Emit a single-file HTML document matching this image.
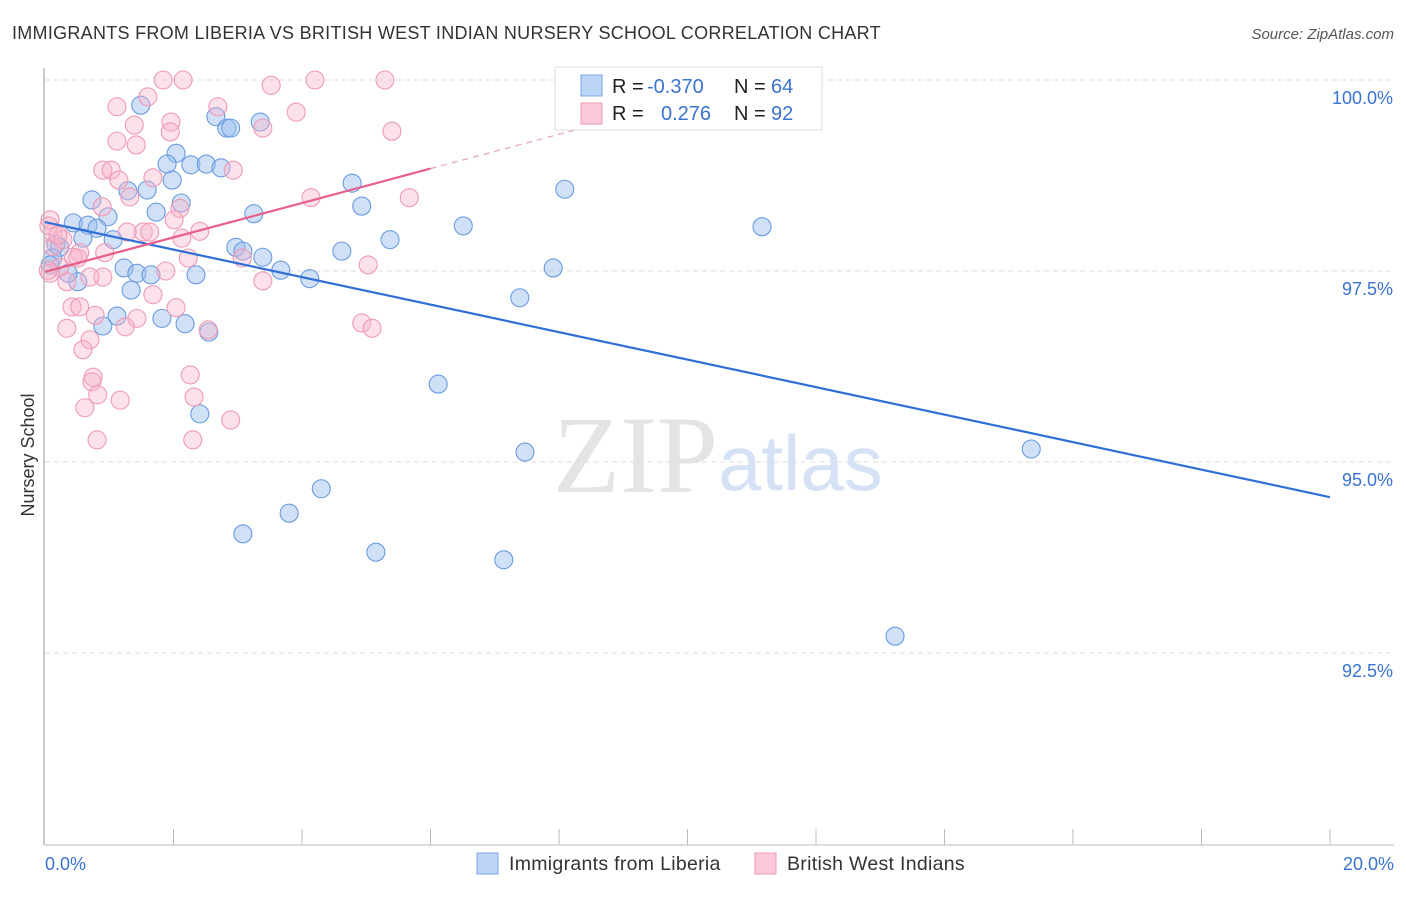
<!DOCTYPE html>
<html><head><meta charset="utf-8"><style>
body{margin:0;background:#fff;width:1406px;height:892px;overflow:hidden;font-family:"Liberation Sans",sans-serif}
</style></head><body>
<svg id="chart" width="1406" height="892" xmlns="http://www.w3.org/2000/svg" font-family="Liberation Sans, sans-serif">
<text x="12" y="39" font-size="18" letter-spacing="0.28" fill="#333">IMMIGRANTS FROM LIBERIA VS BRITISH WEST INDIAN NURSERY SCHOOL CORRELATION CHART</text>
<text x="1394" y="39" font-size="15" fill="#555" font-style="italic" text-anchor="end">Source: ZipAtlas.com</text>
<text x="553" y="492" font-size="110" fill="#e4e4e4" font-family="Liberation Serif, serif">ZIP</text>
<text x="718" y="490" font-size="78" fill="#d5e2f5">atlas</text>
<text transform="translate(34,455) rotate(-90)" font-size="18" fill="#333" text-anchor="middle">Nursery School</text>
<g id="grid"></g><g id="marks"></g><g id="lines"></g>
<line x1="44" y1="68" x2="44" y2="845" stroke="#bbb" stroke-width="1.5"/>
<line x1="44" y1="845" x2="1394" y2="845" stroke="#bbb" stroke-width="1"/>
<text x="45" y="870" font-size="18" fill="#3b73d1">0.0%</text>
<text x="1394" y="870" font-size="18" fill="#3b73d1" text-anchor="end">20.0%</text>
<g>
<rect x="555" y="67" width="267" height="63" fill="#fff" stroke="#ddd"/>
<rect x="581" y="75" width="21" height="21" fill="#bcd4f5" stroke="#7aa6e6"/>
<rect x="581" y="103" width="21" height="21" fill="#fbc9d8" stroke="#ee9ab5"/>
<text x="612" y="93" font-size="20" fill="#222">R =</text><text x="647" y="93" font-size="20" fill="#3b73d1">-0.370</text>
<text x="734" y="93" font-size="20" fill="#222">N =</text><text x="771" y="93" font-size="20" fill="#3b73d1">64</text>
<text x="612" y="120" font-size="20" fill="#222">R =</text><text x="661" y="120" font-size="20" fill="#3b73d1">0.276</text>
<text x="734" y="120" font-size="20" fill="#222">N =</text><text x="771" y="120" font-size="20" fill="#3b73d1">92</text>
</g>
<g><rect x="477" y="853" width="21" height="21" fill="#bcd4f5" stroke="#7aa6e6"/><text x="509" y="870" font-size="19.5" letter-spacing="0.3" fill="#333">Immigrants from Liberia</text></g>
<g><rect x="755" y="853" width="21" height="21" fill="#fbc9d8" stroke="#ee9ab5"/><text x="787" y="870" font-size="19.5" letter-spacing="0.3" fill="#333">British West Indians</text></g>
</svg>
<script>
const yTicks=[100,97.5,95,92.5];
const yTickLabels=["100.0%","97.5%","95.0%","92.5%"];
const xTicks=[2,4,6,8,10,12,14,16,18,20];
const blueX=[9.42,1.49,2.66,2.83,2.89,3.35,2.04,1.90,2.27,2.51,2.74,1.98,4.78,8.09,1.29,1.59,0.73,2.12,1.73,4.93,3.25,0.98,0.44,0.67,0.81,6.51,11.16,0.59,1.06,5.37,2.97,3.08,4.62,3.39,0.17,0.23,0.12,0.08,1.23,1.43,1.65,2.35,3.67,4.12,7.91,0.51,1.34,7.39,1.12,1.82,0.90,2.18,2.55,6.12,2.41,7.47,15.35,4.30,3.80,3.08,5.15,7.14,13.23,0.36];
const blueY=[100.03,99.67,99.52,99.37,99.37,99.45,99.04,98.90,98.89,98.90,98.85,98.69,98.65,98.57,98.55,98.56,98.43,98.39,98.27,98.35,98.25,98.21,98.13,98.10,98.06,98.09,98.08,97.93,97.91,97.91,97.81,97.76,97.76,97.68,97.85,97.81,97.67,97.58,97.54,97.47,97.45,97.45,97.51,97.40,97.54,97.36,97.25,97.15,96.91,96.88,96.78,96.81,96.70,96.02,95.63,95.13,95.17,94.65,94.33,94.06,93.82,93.72,92.72,97.47];
const pinkX=[1.84,2.15,3.52,4.20,5.29,1.60,1.12,2.69,3.91,1.39,1.96,1.95,3.39,5.40,1.12,1.42,0.90,1.03,1.15,1.68,2.93,1.32,0.89,4.14,5.67,2.10,2.01,0.08,1.28,1.53,1.63,2.41,2.13,2.23,3.07,3.39,1.88,0.93,0.54,0.44,0.90,0.70,0.34,1.68,0.42,0.54,0.78,1.25,1.43,2.04,2.54,0.34,0.70,0.59,0.75,0.73,2.26,0.82,2.32,1.17,0.62,2.89,0.81,2.30,0.12,0.23,0.08,0.12,0.28,5.03,4.93,5.09,0.06,0.05,0.51,0.20];
const pinkY=[100,100,99.93,100,100,99.78,99.65,99.65,99.58,99.41,99.45,99.32,99.37,99.33,99.20,99.15,98.82,98.82,98.69,98.72,98.82,98.47,98.34,98.46,98.46,98.32,98.17,98.17,98.01,98.01,98.01,98.02,97.93,97.67,97.67,97.37,97.50,97.74,97.74,97.68,97.42,97.42,97.36,97.19,97.03,97.03,96.92,96.77,96.88,97.02,96.73,96.75,96.60,96.47,96.11,96.05,96.14,95.88,95.85,95.81,95.71,95.55,95.29,95.29,97.82,97.55,97.47,98.00,97.91,97.58,96.82,96.75,98.09,97.51,97.67,97.97];
const blueTrend=[98.14,94.54];
const pinkTrend=[97.49,98.84];
const NS="http://www.w3.org/2000/svg";
const xs=v=>45+v/20*1285, ys=v=>80+(100-v)/2.5*191;
function mk(t,a,p){const e=document.createElementNS(NS,t);for(const k in a)e.setAttribute(k,a[k]);p.appendChild(e);return e;}
const grid=document.getElementById('grid'),marks=document.getElementById('marks'),lines=document.getElementById('lines');
yTicks.forEach((v,i)=>{
 const l=mk('line',{x1:45,x2:1394,y1:ys(v),y2:ys(v),stroke:'#ddd','stroke-dasharray':'5,4'},grid);
 
 
 const t=mk('text',{x:1393,y:ys(v)+24,'font-size':18,fill:'#3b73d1','text-anchor':'end'},grid);t.textContent=yTickLabels[i];
 
 
});
xTicks.forEach(v=>{
 const l=mk('line',{x1:xs(v),x2:xs(v),y1:829,y2:845,stroke:'#bbb'},grid);
 
 
});
blueX.forEach((x,i)=>{
 const c=mk('circle',{cx:xs(x),cy:ys(blueY[i]),r:9,fill:'rgba(150,188,238,0.45)',stroke:'#6a9bdf','stroke-width':1.1},marks);
 
 
});
pinkX.forEach((x,i)=>{
 const c=mk('circle',{cx:xs(x),cy:ys(pinkY[i]),r:9,fill:'rgba(248,180,202,0.4)',stroke:'#ee9ab5','stroke-width':1.1},marks);
 
 
});
const bl=mk('line',{x1:xs(0),y1:ys(blueTrend[0]),x2:xs(20),y2:ys(blueTrend[1]),stroke:'#2f6fd6','stroke-width':2.2},lines);


const sl=(pinkTrend[1]-pinkTrend[0])/6;
const pl=mk('line',{x1:xs(0),y1:ys(pinkTrend[0]),x2:xs(6),y2:ys(pinkTrend[1]),stroke:'#e8608a','stroke-width':2.2},lines);


const xe=(100.1-pinkTrend[0])/sl;
const pd=mk('line',{x1:xs(6),y1:ys(pinkTrend[1]),x2:xs(xe),y2:ys(pinkTrend[0]+sl*xe),stroke:'#e8a0b8','stroke-width':1.2,'stroke-dasharray':'6,5'},lines);


</script>
</body></html>
